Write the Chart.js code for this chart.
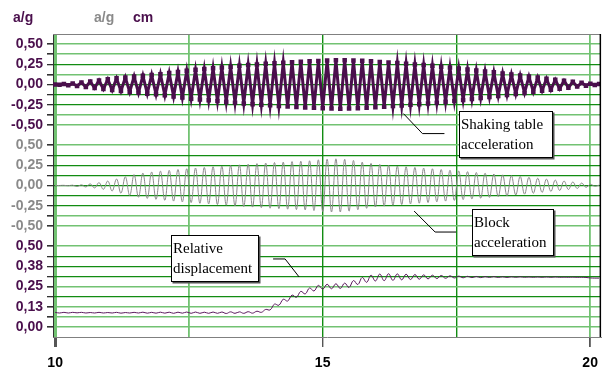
<!DOCTYPE html>
<html>
<head>
<meta charset="utf-8">
<script src="https://cdn.jsdelivr.net/npm/chart.js@4/dist/chart.umd.min.js"></script>
<style>
  html, body { margin: 0; padding: 0; background: #ffffff; }
  #wrap { width: 606px; height: 367px; position: relative; }
</style>
</head>
<body>
<div id="wrap"><canvas id="chart"></canvas></div>
<script>
// Sample times (s): one sample per half cycle of the ~6 Hz excitation
const time = [
  10, 10.082, 10.164, 10.246, 10.328, 10.41, 10.492, 10.574, 10.656, 10.738,
  10.82, 10.902, 10.984, 11.066, 11.148, 11.23, 11.312, 11.394, 11.476, 11.558,
  11.64, 11.722, 11.804, 11.886, 11.968, 12.05, 12.132, 12.214, 12.296, 12.378,
  12.46, 12.542, 12.624, 12.706, 12.788, 12.87, 12.952, 13.034, 13.116, 13.198,
  13.28, 13.362, 13.444, 13.526, 13.608, 13.69, 13.772, 13.854, 13.936, 14.018,
  14.1, 14.182, 14.264, 14.346, 14.428, 14.51, 14.592, 14.674, 14.756, 14.838,
  14.92, 15.002, 15.084, 15.166, 15.248, 15.33, 15.412, 15.494, 15.576, 15.658,
  15.74, 15.822, 15.904, 15.986, 16.068, 16.15, 16.232, 16.314, 16.396, 16.478,
  16.56, 16.642, 16.724, 16.806, 16.888, 16.97, 17.052, 17.134, 17.216, 17.298,
  17.38, 17.462, 17.544, 17.626, 17.708, 17.79, 17.872, 17.954, 18.036, 18.118,
  18.2, 18.282, 18.364, 18.446, 18.528, 18.61, 18.692, 18.774, 18.856, 18.938,
  19.02, 19.102, 19.184, 19.266, 19.348, 19.43, 19.512, 19.594, 19.676, 19.758,
  19.84, 19.922, 20.004, 20.086, 20.168
];

// Shaking table acceleration (a/g)
const tableAccel = [
  0, -0.003, 0.006, -0.009, 0.012, -0.018, 0.024, -0.031, 0.037, -0.043,
  0.05, -0.056, 0.064, -0.069, 0.076, -0.08, 0.087, -0.092, 0.099, -0.103,
  0.109, -0.113, 0.118, -0.122, 0.128, -0.133, 0.141, -0.147, 0.156, -0.162,
  0.171, -0.176, 0.182, -0.186, 0.191, -0.195, 0.201, -0.205, 0.211, -0.215,
  0.221, -0.225, 0.231, -0.235, 0.24, -0.243, 0.248, -0.251, 0.256, -0.258,
  0.263, -0.265, 0.27, -0.272, 0.276, -0.278, 0.282, -0.284, 0.288, -0.289,
  0.292, -0.293, 0.297, -0.297, 0.3, -0.299, 0.3, -0.298, 0.297, -0.294,
  0.293, -0.289, 0.287, -0.282, 0.279, -0.275, 0.272, -0.267, 0.265, -0.26,
  0.257, -0.252, 0.248, -0.243, 0.24, -0.235, 0.231, -0.225, 0.221, -0.214,
  0.21, -0.203, 0.198, -0.191, 0.186, -0.179, 0.174, -0.167, 0.162, -0.155,
  0.15, -0.143, 0.137, -0.13, 0.124, -0.117, 0.111, -0.104, 0.098, -0.091,
  0.085, -0.078, 0.072, -0.065, 0.059, -0.052, 0.046, -0.039, 0.033, -0.026,
  0.02, -0.014, 0.01, -0.007, 0.005
];

// Block acceleration (a/g)
const blockAccel = [
  0, 0, 0.002, -0.003, 0.004, -0.012, 0.008, -0.018, 0.02, -0.03,
  0.035, -0.047, 0.055, -0.068, 0.08, -0.095, 0.108, -0.122, 0.135, -0.145,
  0.153, -0.16, 0.167, -0.172, 0.178, -0.183, 0.188, -0.193, 0.198, -0.203,
  0.207, -0.212, 0.216, -0.22, 0.224, -0.228, 0.232, -0.236, 0.24, -0.244,
  0.248, -0.252, 0.256, -0.26, 0.264, -0.267, 0.271, -0.274, 0.278, -0.281,
  0.284, -0.287, 0.29, -0.293, 0.296, -0.298, 0.301, -0.303, 0.306, -0.31,
  0.318, -0.322, 0.326, -0.328, 0.33, -0.328, 0.324, -0.318, 0.31, -0.3,
  0.29, -0.282, 0.274, -0.266, 0.26, -0.255, 0.25, -0.245, 0.241, -0.236,
  0.232, -0.228, 0.224, -0.219, 0.215, -0.211, 0.207, -0.202, 0.198, -0.193,
  0.189, -0.184, 0.18, -0.175, 0.171, -0.166, 0.161, -0.157, 0.152, -0.147,
  0.142, -0.137, 0.132, -0.127, 0.122, -0.117, 0.112, -0.107, 0.101, -0.096,
  0.09, -0.085, 0.079, -0.073, 0.067, -0.061, 0.055, -0.049, 0.043, -0.037,
  0.03, -0.022, 0.015, -0.009, 0.004
];

// Relative displacement of the block (cm)
const relDisp = [
  0.09, 0.086, 0.09, 0.086, 0.09, 0.087, 0.09, 0.086, 0.089, 0.086,
  0.09, 0.086, 0.089, 0.086, 0.09, 0.085, 0.089, 0.086, 0.09, 0.086,
  0.091, 0.085, 0.09, 0.085, 0.091, 0.085, 0.091, 0.084, 0.091, 0.085,
  0.092, 0.084, 0.092, 0.084, 0.091, 0.084, 0.092, 0.084, 0.092, 0.083,
  0.093, 0.084, 0.093, 0.084, 0.094, 0.085, 0.097, 0.09, 0.108, 0.105,
  0.141, 0.134, 0.171, 0.16, 0.197, 0.183, 0.22, 0.204, 0.241, 0.222,
  0.257, 0.234, 0.264, 0.236, 0.267, 0.238, 0.271, 0.244, 0.287, 0.262,
  0.306, 0.276, 0.32, 0.284, 0.327, 0.286, 0.329, 0.288, 0.328, 0.291,
  0.326, 0.293, 0.324, 0.295, 0.322, 0.297, 0.32, 0.299, 0.318, 0.301,
  0.316, 0.303, 0.314, 0.304, 0.313, 0.305, 0.312, 0.305, 0.311, 0.306,
  0.311, 0.306, 0.31, 0.306, 0.31, 0.307, 0.31, 0.307, 0.309, 0.307,
  0.309, 0.307, 0.309, 0.307, 0.309, 0.307, 0.308, 0.307, 0.308, 0.307,
  0.307, 0.306, 0.303, 0.302, 0.302
];

// Tick labels
const timeTickValues = [10, 15, 20];
const timeTickLabels = ['10', '15', '20'];
const accelTickValues = [0.5, 0.25, 0, -0.25, -0.5];
const accelTickLabels = ['0,50', '0,25', '0,00', '-0,25', '-0,50'];
const dispTickValues = [0.5, 0.375, 0.25, 0.125, 0];
const dispTickLabels = ['0,50', '0,38', '0,25', '0,13', '0,00'];

// Unit captions above the value axis
const unitCaptions = ['a/g', 'a/g', 'cm'];

// Callout texts
const tableCallout = ['Shaking table', 'acceleration'];
const blockCallout = ['Block', 'acceleration'];
const dispCallout = ['Relative', 'displacement'];

// ---- styling ----
const PURPLE = '#4a0f4c';
const LINE_PURPLE = '#5c1a5e';
const GRAY = '#8a8a8a';
const LIGHT = '#72c272';
const DARK = '#128c12';
const FONT = '"Liberation Sans", Arial, sans-serif';
const SERIF = '"Liberation Serif", "Times New Roman", serif';

// grid shade per tick (index from axis minimum upward); '' = no line
const tableShade = ['', 'L', 'L', 'D', 'D', 'D', 'L', 'D', 'L', 'L', ''];
const blockShade = ['', 'L', 'L', 'D', 'D', 'D', 'D', 'D', 'D', 'L', ''];
const dispShade  = ['', 'L', 'L', 'L', 'D', 'L', 'D', 'D', 'D', 'L', ''];
const timeShade  = { 10: 'L', 12.5: 'L', 15: 'D', 17.5: 'D', 20: 'L' };

function labelFor(values, labels, v) {
  for (let i = 0; i < values.length; i++) {
    if (Math.abs(values[i] - v) < 1e-6) return labels[i];
  }
  return '';
}

function series(values) {
  return time.map((t, i) => ({ x: t, y: values[i] }));
}

function shadeGrid(shade) {
  return {
    color: ctx => shade[ctx.index] === 'L' ? LIGHT : shade[ctx.index] === 'D' ? DARK : 'rgba(0,0,0,0)',
    lineWidth: ctx => shade[ctx.index] === 'L' ? 1.6 : 1.3,
    tickColor: ctx => shade[ctx.index] ? '#333333' : 'rgba(0,0,0,0)',
    tickLength: 6,
    drawTicks: true
  };
}

function valueAxis(min, max, step, shade, tickValues, tickLabels, color) {
  return {
    type: 'linear',
    position: 'left',
    stack: 'values',
    stackWeight: 1,
    min: min,
    max: max,
    afterFit: s => { s.width = 53; },
    afterBuildTicks: s => {
      s.ticks = [];
      for (let v = min; v <= max + 1e-9; v += step) s.ticks.push({ value: Math.round(v * 10000) / 10000 });
    },
    grid: shadeGrid(shade),
    border: { display: true, color: '#333333', width: 1 },
    ticks: {
      autoSkip: false,
      padding: 4,
      color: color,
      font: { family: FONT, size: 14, weight: 'bold' },
      callback: v => labelFor(tickValues, tickLabels, v)
    }
  };
}

const callouts = [
  { axis: 'yTable', lines: tableCallout, tip: [16.51, -0.36], path: [[19, 20], [41, 20]], box: [56, -3, 93, 46] },
  { axis: 'yBlock', lines: blockCallout, tip: [16.71, -0.316], path: [[21, 21], [42, 21]], box: [58, -2, 81, 46] },
  { axis: 'yDisp', lines: dispCallout, tip: [14.56, 0.309], path: [[-14, -18], [-26, -18]], box: [-128, -42, 87, 46] }
];

const calloutPlugin = {
  id: 'callouts',
  afterDatasetsDraw(chart) {
    const ctx = chart.ctx;
    const xs = chart.scales.x;
    ctx.save();
    callouts.forEach(c => {
      const ys = chart.scales[c.axis];
      const px = xs.getPixelForValue(c.tip[0]);
      const py = ys.getPixelForValue(c.tip[1]);
      ctx.strokeStyle = '#000000';
      ctx.lineWidth = 1;
      ctx.beginPath();
      ctx.moveTo(px, py);
      c.path.forEach(p => ctx.lineTo(px + p[0], py + p[1]));
      ctx.stroke();
      const bx = Math.round(px + c.box[0]) + 0.5;
      const by = Math.round(py + c.box[1]) + 0.5;
      const bw = c.box[2], bh = c.box[3];
      ctx.fillStyle = '#555555';
      ctx.fillRect(bx + 1, by + 1, bw + 1, bh + 1);
      ctx.fillStyle = '#ffffff';
      ctx.fillRect(bx, by, bw, bh);
      ctx.strokeRect(bx, by, bw, bh);
      ctx.fillStyle = '#000000';
      ctx.font = '15px ' + SERIF;
      ctx.textAlign = 'left';
      ctx.textBaseline = 'alphabetic';
      c.lines.forEach((s, i) => ctx.fillText(s, bx + 1.5, by + 17 + i * 20));
    });
    ctx.restore();
  }
};

const framePlugin = {
  id: 'frame',
  afterDraw(chart) {
    const ctx = chart.ctx;
    const a = chart.chartArea;
    ctx.save();
    ctx.lineWidth = 1;
    ctx.strokeStyle = '#808080';
    ctx.beginPath();
    ctx.moveTo(a.left, a.top + 0.5);
    ctx.lineTo(a.right, a.top + 0.5);
    ctx.stroke();
    ctx.strokeStyle = '#000000';
    ctx.lineWidth = 1.5;
    ctx.beginPath();
    ctx.moveTo(a.right - 0.5, a.top);
    ctx.lineTo(a.right - 0.5, a.bottom);
    ctx.stroke();
    // unit captions
    ctx.font = 'bold 14px ' + FONT;
    ctx.textAlign = 'left';
    ctx.textBaseline = 'alphabetic';
    const pos = [13, 94, 133];
    const cols = [PURPLE, GRAY, PURPLE];
    unitCaptions.forEach((s, i) => { ctx.fillStyle = cols[i]; ctx.fillText(s, pos[i], 22); });
    ctx.restore();
  }
};

new Chart(document.getElementById('chart'), {
  type: 'line',
  data: {
    datasets: [
      {
        label: 'Shaking table acceleration',
        data: series(tableAccel),
        yAxisID: 'yTable',
        borderColor: PURPLE,
        backgroundColor: PURPLE,
        borderWidth: 3,
        borderJoinStyle: 'miter',
        tension: 0,
        pointStyle: 'rect',
        pointRadius: 3.2,
        pointBorderWidth: 0,
        pointBackgroundColor: PURPLE
      },
      {
        label: 'Block acceleration',
        data: series(blockAccel),
        yAxisID: 'yBlock',
        borderColor: GRAY,
        borderWidth: 1,
        tension: 0.4,
        pointRadius: 0
      },
      {
        label: 'Relative displacement',
        data: series(relDisp),
        yAxisID: 'yDisp',
        borderColor: LINE_PURPLE,
        borderWidth: 1,
        tension: 0.4,
        pointRadius: 0
      }
    ]
  },
  options: {
    responsive: true,
    maintainAspectRatio: false,
    animation: false,
    events: [],
    layout: { padding: { top: 34, right: 1, bottom: 0, left: 0 } },
    plugins: { legend: { display: false }, tooltip: { enabled: false } },
    scales: {
      x: {
        type: 'linear',
        min: 9.96,
        max: 20.2,
        afterFit: s => { s.height = 30; },
        afterBuildTicks: s => { s.ticks = [10, 12.5, 15, 17.5, 20].map(v => ({ value: v })); },
        grid: {
          color: ctx => timeShade[ctx.tick.value] === 'D' ? DARK : LIGHT,
          lineWidth: ctx => ctx.tick.value === 10 ? 3 : (timeShade[ctx.tick.value] === 'D' ? 1.4 : 1.8),
          tickColor: ctx => labelFor(timeTickValues, timeTickLabels, ctx.tick.value) ? '#555555' : 'rgba(0,0,0,0)',
          tickLength: 10
        },
        border: { display: true, color: '#808080', width: 1 },
        ticks: {
          autoSkip: false,
          maxRotation: 0,
          padding: 8,
          color: '#000000',
          font: { family: FONT, size: 14, weight: 'bold' },
          callback: v => labelFor(timeTickValues, timeTickLabels, v)
        }
      },
      // stacked from the bottom up: displacement, block, table
      yDisp: valueAxis(-0.0625, 0.5625, 0.0625, dispShade, dispTickValues, dispTickLabels, PURPLE),
      yBlock: valueAxis(-0.625, 0.625, 0.125, blockShade, accelTickValues, accelTickLabels, GRAY),
      yTable: valueAxis(-0.625, 0.625, 0.125, tableShade, accelTickValues, accelTickLabels, PURPLE)
    }
  },
  plugins: [calloutPlugin, framePlugin]
});
</script>
</body>
</html>
